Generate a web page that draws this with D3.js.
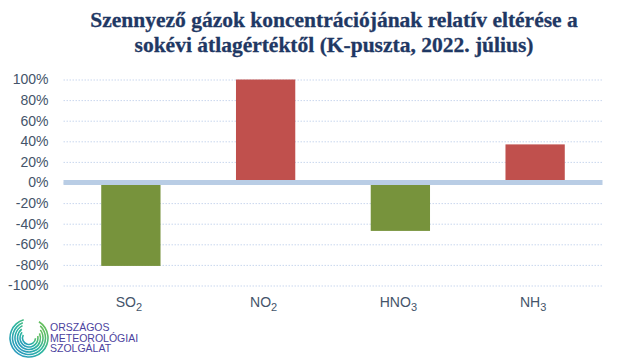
<!DOCTYPE html>
<html><head><meta charset="utf-8">
<script src="https://cdn.jsdelivr.net/npm/d3@7"></script>
<style>html,body{margin:0;padding:0;background:#fff;}svg{display:block;}</style>
</head><body>
<svg id="c" width="640" height="360"></svg>
<script>
const titleLines = ["Szennyező gázok koncentrációjának relatív eltérése a", "sokévi átlagértéktől (K-puszta, 2022. július)"];
const categories = [["SO","2"],["NO","2"],["HNO","3"],["NH","3"]];
const values = [-0.81, 1.00, -0.47, 0.37];
const tickValues = [-1,-0.8,-0.6,-0.4,-0.2,0,0.2,0.4,0.6,0.8,1];
const logoLines = ["ORSZÁGOS","METEOROLÓGIAI","SZOLGÁLAT"];

const svg = d3.select("#c");
const keys = categories.map(c => c.join(""));
const x = d3.scaleBand().domain(keys).range([63.5, 602.5]).paddingInner(0.56).paddingOuter(0.28);
const y = d3.scaleLinear().domain([-1, 1]).range([285.5, 79.5]);

// title
svg.append("g").selectAll("text").data(titleLines).join("text")
  .attr("x", 334).attr("y", (d,i) => 27 + i*25)
  .attr("text-anchor", "middle")
  .attr("font-family", "Liberation Serif, serif").attr("font-weight", "bold")
  .attr("font-size", 21.5).attr("fill", "#1F3864")
  .attr("stroke", "#1F3864").attr("stroke-width", 0.3)
  .text(d => d);

// gridlines
const yAxis = d3.axisLeft(y).tickValues(tickValues).tickSize(-(602.5-63.5)).tickPadding(15)
  .tickFormat(d => Math.round(d*100) + "%");
const ga = svg.append("g").attr("transform", "translate(63.5,0)").call(yAxis);
ga.select(".domain").remove();
ga.selectAll(".tick line").attr("stroke", "#C9D7EE").attr("stroke-dasharray", "1.5,1.5").attr("stroke-width", 1);
ga.selectAll(".tick text").attr("font-family", "Liberation Sans, sans-serif").attr("font-size", 14).attr("fill", "#44546A");

// bars
svg.append("g").selectAll("rect").data(values).join("rect")
  .attr("x", (d,i) => x(keys[i]))
  .attr("width", x.bandwidth())
  .attr("y", d => y(Math.max(0,d)))
  .attr("height", d => Math.abs(y(d) - y(0)))
  .attr("fill", d => d >= 0 ? "#C0504D" : "#77933C");

// zero band
svg.append("line").attr("x1", 63.5).attr("x2", 602.5).attr("y1", y(0)).attr("y2", y(0))
  .attr("stroke", "#B9CDE5").attr("stroke-width", 5);

// category labels
const cl = svg.append("g").selectAll("text").data(categories).join("text")
  .attr("x", (d,i) => x(keys[i]) + x.bandwidth()/2 - 2)
  .attr("y", 307).attr("text-anchor", "middle")
  .attr("font-family", "Liberation Sans, sans-serif").attr("font-size", 14).attr("fill", "#44546A");
cl.append("tspan").text(d => d[0]);
cl.append("tspan").attr("font-size", 11).attr("dy", 4).text(d => d[1]);

// logo
const defs = svg.append("defs");
const lg = defs.append("linearGradient").attr("id","lg").attr("x1","1").attr("y1","0").attr("x2","0").attr("y2","1");
lg.append("stop").attr("offset","0").attr("stop-color","#7CC242");
lg.append("stop").attr("offset","0.5").attr("stop-color","#2BB5A0");
lg.append("stop").attr("offset","1").attr("stop-color","#2A8FC9");
const logo = svg.append("g").attr("transform","translate(29,338)");
const arcs = [[19,0.55,6.0],[16.5,0.75,5.9],[14,0.95,5.8],[11.5,1.15,5.6],[9,1.35,5.4],[6.5,1.6,5.2]];
arcs.forEach(([r,a0,a1]) => {
  logo.append("path").attr("d", d3.arc()({innerRadius:r-0.8, outerRadius:r+0.8, startAngle:a0, endAngle:a1}))
    .attr("fill","url(#lg)");
});
svg.append("g").selectAll("text").data(logoLines).join("text")
  .attr("x", 50).attr("y", (d,i) => 331 + i*10.5)
  .attr("font-family", "Liberation Sans, sans-serif").attr("font-size", 10.5).attr("fill", "#4B3F9E")
  .text(d => d);
</script>
</body></html>
